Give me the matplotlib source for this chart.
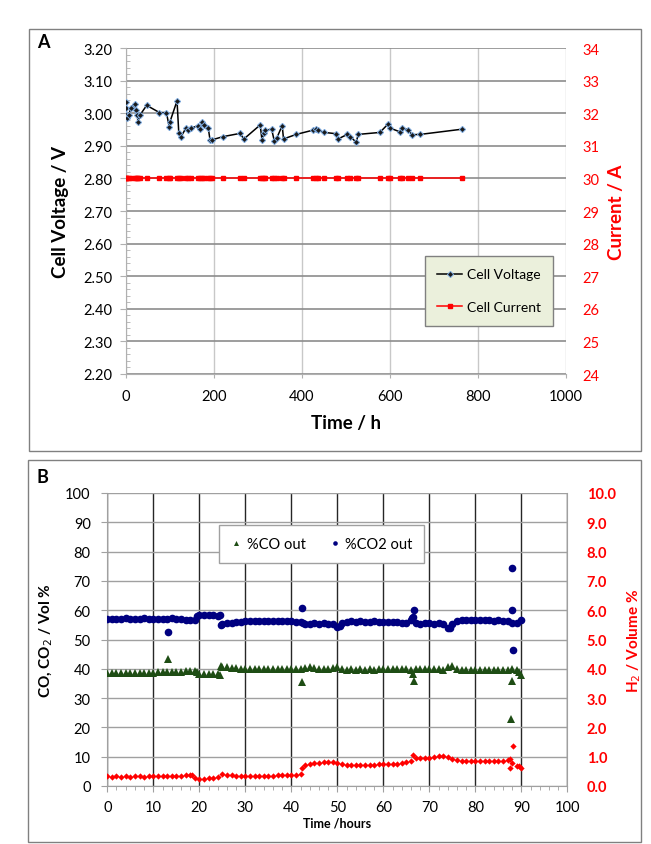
import matplotlib
matplotlib.use("Agg")
import matplotlib.pyplot as plt
from matplotlib.patches import Rectangle
from matplotlib.ticker import MultipleLocator, FormatStrFormatter

plt.rcParams['font.family'] = ['Lato', 'DejaVu Sans']

# ---- panel A: cell voltage / current vs time (h)
a_time = [0, 0, 0, 2, 6, 11, 20, 22, 26, 27, 31, 47, 76, 92, 98, 100, 116, 120, 125,
          137, 141, 148, 164, 169, 173, 177, 187, 191, 195, 220, 259, 268, 305, 309,
          313, 317, 331, 337, 343, 355, 358, 387, 425, 431, 436, 451, 478, 482, 503,
          510, 523, 528, 577, 595, 601, 622, 628, 642, 650, 669, 764]
a_volt = [3.033, 3.015, 2.995, 2.985, 2.995, 3.015, 3.028, 3.010, 2.993, 2.972, 2.993,
          3.024, 3.002, 3.002, 2.959, 2.974, 3.038, 2.938, 2.928, 2.956, 2.947, 2.954,
          2.962, 2.951, 2.972, 2.964, 2.954, 2.918, 2.918, 2.928, 2.938, 2.921, 2.964,
          2.918, 2.938, 2.948, 2.951, 2.915, 2.925, 2.962, 2.921, 2.935, 2.948, 2.951,
          2.948, 2.941, 2.937, 2.921, 2.935, 2.928, 2.911, 2.935, 2.941, 2.966, 2.954,
          2.943, 2.956, 2.948, 2.934, 2.935, 2.951]
a_curr = [30.0] * len(a_time)

# ---- panel B: outlet gas composition, hourly readings
b_time = list(range(0, 91))
co2 = [57.0, 56.9, 57.1, 57.0, 57.2, 57.0, 57.1, 57.0, 57.2, 57.0, 57.1, 57.0, 57.1, 57.0,
       57.2, 57.0, 56.9, 56.8, 56.7, 56.5, 58.3, 58.4, 58.2, 58.4, 58.0, 55.3, 55.6, 55.8,
       56.0, 56.1, 56.2, 56.2, 56.3, 56.2, 56.3, 56.2, 56.3, 56.2, 56.2, 56.3, 56.2, 56.1,
       56.0, 55.2, 55.4, 55.5, 55.3, 55.5, 55.3, 55.2, 54.4, 55.8, 56.0, 56.2, 56.1, 56.2,
       56.0, 56.1, 56.2, 56.1, 56.0, 56.1, 56.0, 55.9, 55.8, 55.6, 56.5, 55.8, 55.4, 55.6,
       55.5, 55.4, 55.6, 55.2, 54.0, 55.2, 56.2, 56.5, 56.6, 56.5, 56.7, 56.6, 56.5, 56.6,
       56.4, 56.5, 56.4, 56.2, 55.6, 55.8, 56.8]
co = [38.4, 38.5, 38.5, 38.6, 38.5, 38.6, 38.5, 38.6, 38.7, 38.6, 38.7, 38.8, 38.8, 38.9,
      38.9, 39.0, 39.0, 39.1, 39.2, 39.3, 38.3, 38.2, 38.1, 38.2, 38.3, 40.7, 40.5, 40.3,
      40.2, 40.1, 40.0, 40.0, 39.9, 40.0, 39.9, 40.0, 39.9, 40.0, 39.9, 40.0, 40.0, 40.1,
      40.0, 40.4, 40.5, 40.2, 40.0, 40.1, 40.0, 40.2, 40.7, 39.8, 39.7, 39.8, 39.7, 39.8,
      39.7, 39.8, 39.7, 39.8, 39.8, 39.9, 39.8, 39.9, 40.0, 40.0, 39.6, 39.9, 40.0, 39.9,
      40.0, 39.9, 39.8, 39.5, 40.6, 40.8, 39.8, 39.6, 39.5, 39.6, 39.5, 39.5, 39.6, 39.5,
      39.5, 39.6, 39.6, 39.7, 39.8, 39.5, 38.0]
h2 = [0.33, 0.32, 0.33, 0.32, 0.33, 0.32, 0.33, 0.33, 0.32, 0.33, 0.33, 0.33, 0.34, 0.33,
      0.34, 0.34, 0.35, 0.36, 0.37, 0.27, 0.25, 0.25, 0.26, 0.28, 0.32, 0.40, 0.38, 0.36,
      0.34, 0.33, 0.33, 0.34, 0.34, 0.34, 0.35, 0.35, 0.35, 0.36, 0.36, 0.37, 0.37, 0.38,
      0.40, 0.70, 0.75, 0.78, 0.80, 0.81, 0.83, 0.83, 0.80, 0.76, 0.73, 0.72, 0.72, 0.73,
      0.72, 0.73, 0.73, 0.74, 0.74, 0.74, 0.74, 0.75, 0.78, 0.81, 0.85, 0.95, 0.96, 0.96,
      0.97, 0.98, 1.01, 1.02, 0.98, 0.92, 0.88, 0.87, 0.87, 0.87, 0.86, 0.86, 0.86, 0.86,
      0.86, 0.86, 0.87, 0.88, 0.80, 0.68, 0.60]
# extra readings (steps and outliers)
co2_x_t = [13.2, 42.3, 66.5, 66.7, 87.9, 88.0, 88.2, 19.5, 24.5, 24.8, 42.5, 50.5, 74.5, 66.3]
co2_x_v = [52.5, 60.8, 57.8, 60.0, 74.5, 60.0, 46.5, 58.0, 58.2, 55.0, 55.8, 54.5, 54.0, 57.5]
co_x_t = [13.2, 42.3, 66.7, 87.9, 87.7, 66.5, 24.5, 24.7, 19.5, 89.5]
co_x_v = [43.2, 35.5, 36.0, 36.0, 23.0, 38.2, 38.0, 40.8, 39.0, 38.8]
h2_x_t = [42.4, 66.5, 87.5, 87.6, 88.1, 89.5, 18.5]
h2_x_v = [0.62, 1.06, 0.92, 0.62, 1.38, 0.68, 0.37]

RED = "#ff0000"
GRID = "#a0a0a0"

fig = plt.figure(figsize=(6.51, 8.45), dpi=100)
fig.add_artist(Rectangle((29/651, 1-452/845), 612/651, 422/845, transform=fig.transFigure,
                         fill=False, ec="#808080", lw=1.0))
fig.add_artist(Rectangle((28/651, 1-843/845), 613/651, 382/845, transform=fig.transFigure,
                         fill=False, ec="#808080", lw=1.0))

# ---------- A
ax = fig.add_axes([126/651, 1-375/845, 440/651, 326/845])
ax.plot(a_time, a_volt, "-", color="black", lw=1.1, marker="D", ms=3.2,
        mfc="#1a1a1a", mec="#7aa7dc", mew=0.7, label="Cell Voltage", zorder=4)
ax.set_xlim(0, 1000); ax.set_ylim(2.2, 3.2)
ax.xaxis.set_major_locator(MultipleLocator(200))
ax.yaxis.set_major_locator(MultipleLocator(0.1))
ax.yaxis.set_minor_locator(MultipleLocator(0.02))
ax.yaxis.set_major_formatter(FormatStrFormatter("%.2f"))
ax.grid(axis="y", color="#8c8c8c", lw=1.2)
ax.grid(axis="x", color="#c8c8c8", lw=1.0)
for s in ["top", "right"]:
    ax.spines[s].set_visible(False)
ax.spines["left"].set_color("#b0b0b0"); ax.spines["bottom"].set_color("#b0b0b0")
ax.tick_params(axis="y", which="major", direction="out", length=4, color="#b0b0b0",
               labelsize=10.5, pad=6)
ax.tick_params(axis="y", which="minor", direction="in", length=3, color="#b0b0b0")
ax.tick_params(axis="x", direction="out", length=3, color="#b0b0b0", labelsize=10.5, pad=8)
ax.set_ylabel("Cell Voltage / V", fontsize=13.5, fontweight="bold", labelpad=10)
ax.set_xlabel("Time / h", fontsize=13.5, fontweight="bold", labelpad=8)
ax2 = ax.twinx()
ax2.plot(a_time, a_curr, "-", color=RED, lw=1.1, marker="s", ms=3.2, mec=RED,
         label="Cell Current", zorder=3)
ax2.set_ylim(24, 34)
ax2.yaxis.set_major_locator(MultipleLocator(1))
for s in ax2.spines.values():
    s.set_visible(False)
ax2.tick_params(axis="y", length=0, labelcolor=RED, labelsize=10.5, pad=12)
ax2.set_ylabel("Current / A", fontsize=13.5, fontweight="bold", color=RED, labelpad=6)
h1, l1 = ax.get_legend_handles_labels()
h2_, l2 = ax2.get_legend_handles_labels()
leg = ax2.legend(h1 + h2_, l1 + l2, loc="upper left",
                 bbox_to_anchor=((418-126)/440, (375-250)/326), fontsize=10,
                 frameon=True, fancybox=False, labelspacing=1.5, handlelength=1.8,
                 handletextpad=0.3, borderpad=0.9)
leg.get_frame().set_facecolor("#ebf0dc"); leg.get_frame().set_edgecolor("#808080")
leg.get_frame().set_alpha(1)
fig.text(37/651, 1-42/845, "A", fontsize=13, fontweight="bold", va="center")

# ---------- B
bx = fig.add_axes([107.3/651, 1-787/845, 460/651, 293/845])
bx.plot(b_time + co2_x_t, co2 + co2_x_v, "o", color="#000080", ms=5.5, mew=0,
        label="%CO2 out", zorder=4)
bx.plot(b_time + co_x_t, co + co_x_v, "^", color="#1e4d14", ms=6, mew=0,
        label="%CO out", zorder=4)
bx.set_xlim(0, 100); bx.set_ylim(0, 100)
bx.xaxis.set_major_locator(MultipleLocator(10))
bx.xaxis.set_minor_locator(MultipleLocator(2))
bx.yaxis.set_major_locator(MultipleLocator(10))
bx.grid(axis="y", color=GRID, lw=1.0)
for xv in bx.get_xticks()[1:-1]:
    bx.axvline(xv, color="#262626", lw=1.0, zorder=1)
for s in bx.spines.values():
    s.set_color("#a0a0a0")
bx.spines["top"].set_visible(False)
bx.tick_params(axis="x", which="major", direction="out", length=4, color="#a0a0a0",
               labelsize=10.5, pad=6)
bx.tick_params(axis="x", which="minor", direction="out", length=3, color="#a0a0a0")
bx.tick_params(axis="y", direction="out", length=4, color="#a0a0a0", labelsize=10.5, pad=8)
bx.set_xlabel("Time /hours", fontsize=9, fontweight="bold", labelpad=2)
bx.set_ylabel("CO, CO$_2$ / Vol %", fontsize=11, fontweight="bold", labelpad=7)
bx2 = bx.twinx()
bx2.plot(b_time + h2_x_t, h2 + h2_x_v, "D", color=RED, ms=3.2, mew=0, zorder=3)
bx2.set_ylim(0, 10)
bx2.yaxis.set_major_locator(MultipleLocator(1))
bx2.yaxis.set_major_formatter(FormatStrFormatter("%.1f"))
for s in bx2.spines.values():
    s.set_visible(False)
bx2.tick_params(axis="y", length=0, labelcolor=RED, labelsize=10.5, pad=14)
for t in bx2.get_yticklabels():
    t.set_fontweight("bold")
bx2.set_ylabel("H$_2$ / Volume %", fontsize=11, fontweight="bold", color=RED, labelpad=7)
hb, lb = bx.get_legend_handles_labels()
legb = bx.legend(hb[::-1], lb[::-1], ncol=2, loc="upper left",
                 bbox_to_anchor=((211.7-107.3)/460, (787-519)/293), fontsize=10.5,
                 frameon=True, fancybox=False, handlelength=0.8, handletextpad=0.3,
                 columnspacing=1.6, borderpad=0.8, markerscale=0.6)
legb.get_frame().set_edgecolor("#a0a0a0"); legb.get_frame().set_alpha(1)
fig.text(37/651, 1-478/845, "B", fontsize=13, fontweight="bold", va="center")

fig.savefig("out.png", dpi=100)
